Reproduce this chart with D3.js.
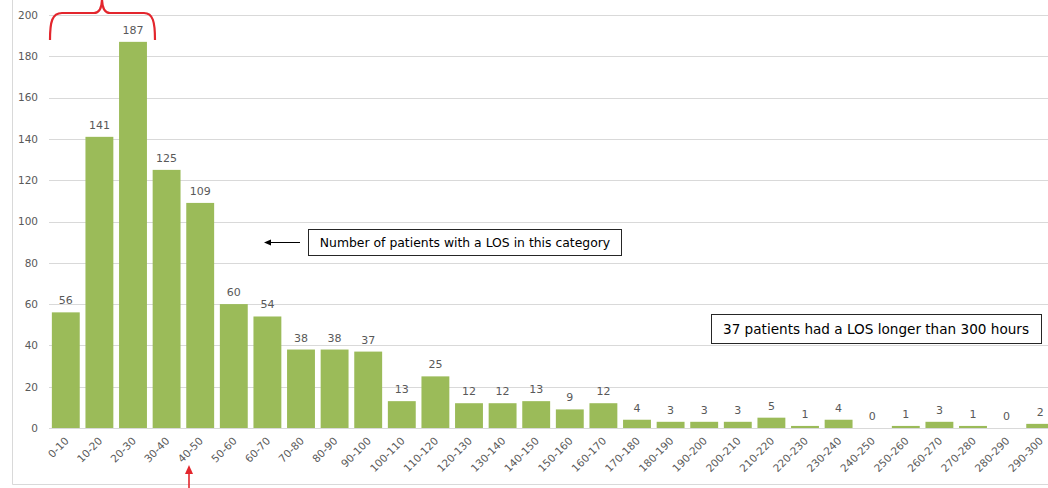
<!DOCTYPE html>
<html><head><meta charset="utf-8">
<script src="https://cdn.jsdelivr.net/npm/d3@7"></script>
<style>body{margin:0;background:#fff}svg{display:block}</style>
</head><body>
<svg id="c" width="1048" height="488"></svg>
<script>
const categories = ["0-10","10-20","20-30","30-40","40-50","50-60","60-70","70-80","80-90","90-100","100-110","110-120","120-130","130-140","140-150","150-160","160-170","170-180","180-190","190-200","200-210","210-220","220-230","230-240","240-250","250-260","260-270","270-280","280-290","290-300"];
const patients = [56,141,187,125,109,60,54,38,38,37,13,25,12,12,13,9,12,4,3,3,3,5,1,4,0,1,3,1,0,2];
const yTicks = [0,20,40,60,80,100,120,140,160,180,200];
const note1 = "Number of patients with a LOS in this category";
const note2 = "37 patients had a LOS longer than 300 hours";

const svg = d3.select("#c");
const font = "'DejaVu Sans', Verdana, sans-serif";
const grey = "#595959";

// chart frame
svg.append("line").attr("x1",12.5).attr("x2",12.5).attr("y1",0).attr("y2",484.5).attr("stroke","#d9d9d9");
svg.append("line").attr("x1",12.5).attr("x2",1048).attr("y1",484.5).attr("y2",484.5).attr("stroke","#d9d9d9");

const x = d3.scaleBand().domain(categories).range([49,1057]).paddingInner(0.17).paddingOuter(0.085);
const y = d3.scaleLinear().domain([0,200]).range([428,15]);

// gridlines
svg.append("g").selectAll("line").data(yTicks).join("line")
  .attr("x1",49).attr("x2",1048)
  .attr("y1",d=>Math.round(y(d))+0.5).attr("y2",d=>Math.round(y(d))+0.5)
  .attr("stroke","#d9d9d9").attr("stroke-width",1);

// y axis labels
const yAxis = d3.axisLeft(y).tickValues(yTicks).tickSize(0).tickPadding(0);
const gy = svg.append("g").attr("transform","translate(38,0)").call(yAxis);
gy.select(".domain").remove();
gy.selectAll("text").attr("font-family",font).attr("font-size",10.5).attr("fill",grey);

// bars
svg.append("g").selectAll("rect").data(patients).join("rect")
  .attr("x",(d,i)=>x(categories[i]))
  .attr("width",x.bandwidth())
  .attr("y",d=>y(d))
  .attr("height",d=>y(0)-y(d))
  .attr("fill","#9bbb59");

// value labels
svg.append("g").selectAll("text").data(patients).join("text")
  .attr("x",(d,i)=>x(categories[i])+x.bandwidth()/2)
  .attr("y",d=>y(d)-8)
  .attr("text-anchor","middle")
  .attr("font-family",font).attr("font-size",11).attr("fill",grey)
  .text(d=>d);

// x axis labels
const xAxis = d3.axisBottom(x).tickSize(0).tickPadding(0);
const gx = svg.append("g").attr("transform","translate(0,435)").call(xAxis);
gx.select(".domain").remove();
gx.selectAll("text")
  .attr("font-family",font).attr("font-size",10.5).attr("fill",grey)
  .attr("text-anchor","end")
  .attr("transform","translate(1,4) rotate(-45)")
  .attr("dy","0.35em").attr("y",0);

// annotation 1
svg.append("rect").attr("x",308.5).attr("y",229.5).attr("width",313).attr("height",26)
  .attr("fill","#fff").attr("stroke","#262626").attr("stroke-width",1);
svg.append("text").attr("x",465).attr("y",247).attr("text-anchor","middle")
  .attr("font-family",font).attr("font-size",12.4).attr("fill","#000").text(note1);
svg.append("line").attr("x1",300).attr("x2",270).attr("y1",242.5).attr("y2",242.5).attr("stroke","#000").attr("stroke-width",1);
svg.append("path").attr("d","M264,242.5 L271,239.5 L271,245.5 Z").attr("fill","#000");

// annotation 2
svg.append("rect").attr("x",711.5).attr("y",314.5).attr("width",330).attr("height",29)
  .attr("fill","#fff").attr("stroke","#262626").attr("stroke-width",1);
svg.append("text").attr("x",876).attr("y",334).attr("text-anchor","middle")
  .attr("font-family",font).attr("font-size",13.6).attr("fill","#000").text(note2);

// red brace
svg.append("path")
  .attr("d","M50,40 C50,22 52,13 62,13 L94,13 C99,13 102,8 102,-2 C102,8 105,13 110,13 L144,13 C153,13 155,22 155,40")
  .attr("fill","none").attr("stroke","#e3262d").attr("stroke-width",2.2);

// red arrow
svg.append("line").attr("x1",189).attr("x2",189).attr("y1",488).attr("y2",472).attr("stroke","#e3262d").attr("stroke-width",1.6);
svg.append("path").attr("d","M189,465 L185,474 L193,474 Z").attr("fill","#e3262d");
</script>
</body></html>
